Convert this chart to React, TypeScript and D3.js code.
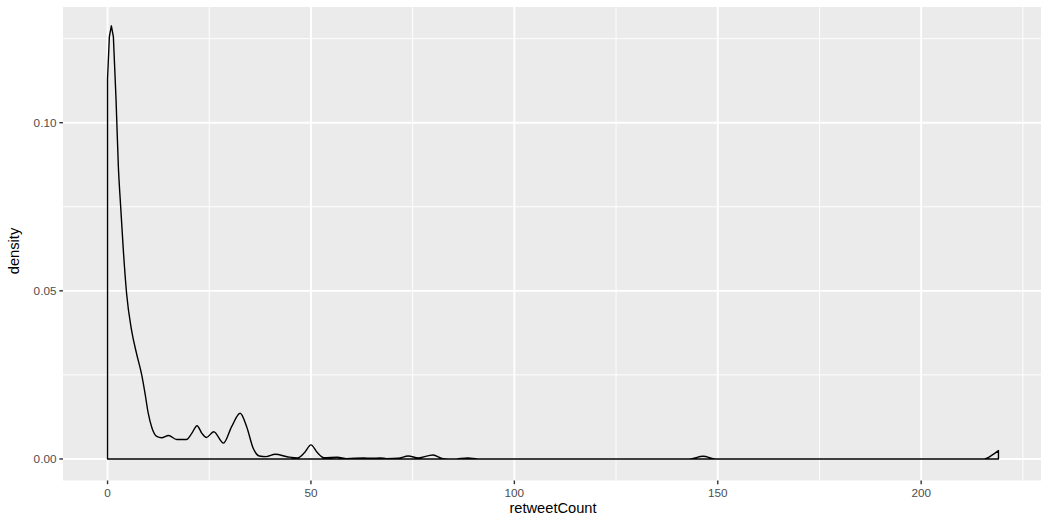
import React from "react";
import * as d3 from "d3";

const densityX: number[] = [
  0, 0.45, 0.94, 1.43, 2.09, 2.66, 3.23, 3.88, 4.7, 5.9, 7.2, 8.4, 9.2, 10.0, 10.9,
  12.1, 13.3, 15.0, 17.0, 19.4, 20.7, 22.0, 23.2, 24.3, 26.1, 28.5, 30.5, 32.6, 34.2,
  35.8, 37.3, 39.0, 41.2, 44.4, 46.7, 48.5, 50.0, 51.5, 53.2, 56.5, 58.8, 62.9, 65.0,
  67.0, 68.6, 71.5, 73.9, 76.4, 80.0, 82.5, 85.0, 88.6, 91.0, 143.0, 146.4, 149.5,
  215.5, 217.5, 219.0,
];
const densityY: number[] = [
  0.113, 0.1256, 0.1288, 0.1256, 0.1068, 0.0869, 0.075, 0.0621, 0.049, 0.0383, 0.031,
  0.025, 0.0196, 0.0136, 0.0093, 0.0067, 0.0063, 0.007, 0.0058, 0.0058, 0.0076, 0.0099,
  0.0076, 0.0064, 0.0081, 0.0047, 0.0096, 0.0136, 0.0096, 0.0032, 0.0009, 0.0007,
  0.0014, 0.0006, 0.0003, 0.002, 0.0042, 0.002, 0.0004, 0.0005, 0.0001, 0.0003, 0.0002,
  0.0003, 0.0001, 0.0002, 0.0009, 0.0003, 0.0012, 0.0001, 0.0, 0.0003, 0.0, 0.0, 0.0008,
  0.0, 0.0, 0.0012, 0.0025,
];

const xMajor: number[] = [0, 50, 100, 150, 200];
const xMinor: number[] = [25, 75, 125, 175, 225];
const yMajor: number[] = [0, 0.05, 0.1];
const yMinor: number[] = [0.025, 0.075, 0.125];
const yTickLabels: string[] = ["0.00", "0.05", "0.10"];
const xTitle = "retweetCount";
const yTitle = "density";

const W = 1041;
const H = 522;
const panel = { left: 63, right: 1043, top: 7, bottom: 480.5 };

export default function App() {
  const x = d3.scaleLinear().domain([-10.95, 229.95]).range([panel.left, panel.right]);
  const y = d3.scaleLinear().domain([-0.0064, 0.1344]).range([panel.bottom, panel.top]);

  const pts: [number, number][] = densityX.map((d, i) => [d, densityY[i]]);
  const peakLine = d3
    .line<[number, number]>()
    .x((d) => x(d[0]))
    .y((d) => y(d[1]))
    .curve(d3.curveLinear);
  const smoothLine = d3
    .line<[number, number]>()
    .x((d) => x(d[0]))
    .y((d) => y(d[1]))
    .curve(d3.curveMonotoneX);
  const partA = peakLine(pts.slice(0, 4)) || "";
  const partB = smoothLine(pts.slice(3)) || "";
  const xEnd = densityX[densityX.length - 1];
  const pathD =
    `M${x(0)},${y(0)}` + "L" + partA.slice(1) + "L" + partB.slice(1) + `L${x(xEnd)},${y(0)}Z`;

  const font = "'Liberation Sans', Arial, Helvetica, sans-serif";
  const tickLen = 3.67;

  return (
    <svg
      width={W}
      height={H}
      style={{ position: "fixed", left: 0, top: 0, background: "white" }}
    >
      <defs>
        <clipPath id="panelClip">
          <rect x={panel.left} y={panel.top} width={panel.right - panel.left} height={panel.bottom - panel.top} />
        </clipPath>
      </defs>
      <rect
        x={panel.left}
        y={panel.top}
        width={panel.right - panel.left}
        height={panel.bottom - panel.top}
        fill="#EBEBEB"
      />
      <g clipPath="url(#panelClip)">
        {yMinor.map((v) => (
          <line key={"ym" + v} x1={panel.left} x2={panel.right} y1={y(v)} y2={y(v)} stroke="#fff" strokeWidth={0.95} />
        ))}
        {xMinor.map((v) => (
          <line key={"xm" + v} x1={x(v)} x2={x(v)} y1={panel.top} y2={panel.bottom} stroke="#fff" strokeWidth={0.95} />
        ))}
        {yMajor.map((v) => (
          <line key={"yM" + v} x1={panel.left} x2={panel.right} y1={y(v)} y2={y(v)} stroke="#fff" strokeWidth={1.9} />
        ))}
        {xMajor.map((v) => (
          <line key={"xM" + v} x1={x(v)} x2={x(v)} y1={panel.top} y2={panel.bottom} stroke="#fff" strokeWidth={1.9} />
        ))}
        <path d={pathD} fill="none" stroke="#000" strokeWidth={1.4} strokeLinejoin="round" />
      </g>
      {yMajor.map((v, i) => (
        <g key={"yt" + v}>
          <line x1={panel.left - tickLen} x2={panel.left} y1={y(v)} y2={y(v)} stroke="#333333" strokeWidth={1.4} />
          <text
            x={panel.left - tickLen - 2.9}
            y={y(v)}
            dy="0.36em"
            textAnchor="end"
            fontFamily={font}
            fontSize={11.73}
            fill="#4D4D4D"
          >
            {yTickLabels[i]}
          </text>
        </g>
      ))}
      {xMajor.map((v) => (
        <g key={"xt" + v}>
          <line x1={x(v)} x2={x(v)} y1={panel.bottom} y2={panel.bottom + tickLen} stroke="#333333" strokeWidth={1.4} />
          <text x={x(v)} y={497} textAnchor="middle" fontFamily={font} fontSize={11.73} fill="#4D4D4D">
            {String(v)}
          </text>
        </g>
      ))}
      <text x={(panel.left + panel.right) / 2} y={513} textAnchor="middle" fontFamily={font} fontSize={14.67} fill="#000">
        {xTitle}
      </text>
      <text
        transform={`translate(18.5, 251) rotate(-90)`}
        textAnchor="middle"
        fontFamily={font}
        fontSize={14.67}
        fill="#000"
      >
        {yTitle}
      </text>
    </svg>
  );
}
